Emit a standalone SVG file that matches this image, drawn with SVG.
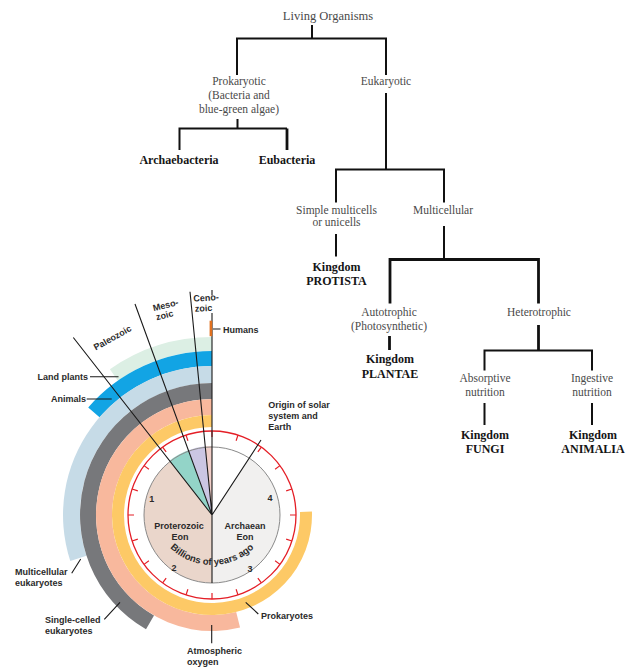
<svg xmlns="http://www.w3.org/2000/svg" width="642" height="669" viewBox="0 0 642 669">
<style>
.t{font-family:"Liberation Serif","Times New Roman",serif;font-size:11.5px;fill:#4a4a4a;text-anchor:middle}
.b{font-family:"Liberation Serif","Times New Roman",serif;font-size:12px;font-weight:bold;fill:#151515;text-anchor:middle}
.l{font-family:"Liberation Sans",Arial,sans-serif;font-size:9px;font-weight:bold;fill:#2a2a2a}
.m{text-anchor:middle}
.e{text-anchor:end}
.c{fill:none;stroke:#111;stroke-width:2}
.c3{fill:none;stroke:#111;stroke-width:2.8}
.p{fill:none;stroke:#1a1a1a;stroke-width:1.1}
</style>
<rect width="642" height="669" fill="#fff"/>
<g id="connectors">
<path class="c" d="M312,25V38.5M237,75V38.5H386V75"/>
<path class="c" d="M237.5,119V128.5M179.5,150V128.5H287"/>
<path class="c3" d="M287,128.5V150"/>
<path class="c" d="M386,93V170M336,202.5V169.5H444V202.5"/>
<path class="c" d="M336,234V256.5"/>
<path class="c" d="M444,226V259.5"/>
<path class="c3" d="M390,303.5V259.5H538.5V303.5"/>
<path class="c3" d="M389.5,336V350"/>
<path class="c3" d="M538.5,325V350.5"/>
<path class="c" d="M484.5,370.5V350.5H592V370.5"/>
<path class="c" d="M484.5,403V425M592,403V425"/>
</g>
<g id="n-living"><text class="t" x="328" y="19.5" style="font-size:12.5px">Living Organisms</text></g>
<g id="n-prokaryotic"><text class="t" x="239" y="85">Prokaryotic</text><text class="t" x="239" y="99">(Bacteria and</text><text class="t" x="239" y="113">blue-green algae)</text></g>
<g id="n-eukaryotic"><text class="t" x="386" y="85">Eukaryotic</text></g>
<g id="n-archaebacteria"><text class="b" x="179" y="163.5">Archaebacteria</text></g>
<g id="n-eubacteria"><text class="b" x="287" y="163.5">Eubacteria</text></g>
<g id="n-simple"><text class="t" x="336.5" y="213.5">Simple multicells</text><text class="t" x="336.5" y="226">or unicells</text></g>
<g id="n-multicellular"><text class="t" x="443" y="213.5">Multicellular</text></g>
<g id="n-protista"><text class="b" x="336.5" y="271">Kingdom</text><text class="b" x="336.5" y="285">PROTISTA</text></g>
<g id="n-autotrophic"><text class="t" x="389" y="316">Autotrophic</text><text class="t" x="389" y="330">(Photosynthetic)</text></g>
<g id="n-heterotrophic"><text class="t" x="539" y="316">Heterotrophic</text></g>
<g id="n-plantae"><text class="b" x="390" y="363">Kingdom</text><text class="b" x="390" y="377.5">PLANTAE</text></g>
<g id="n-absorptive"><text class="t" x="485" y="382">Absorptive</text><text class="t" x="485" y="396">nutrition</text></g>
<g id="n-ingestive"><text class="t" x="592" y="382">Ingestive</text><text class="t" x="592" y="396">nutrition</text></g>
<g id="n-fungi"><text class="b" x="485" y="438.5">Kingdom</text><text class="b" x="485" y="453">FUNGI</text></g>
<g id="n-animalia"><text class="b" x="593" y="438.5">Kingdom</text><text class="b" x="593" y="453">ANIMALIA</text></g>

<g id="clock">
<g id="bands">
<path fill="#dcefe4" d="M212,337A178,178 0 0 0 109.9,369.2L117.9,380.65A164,164 0 0 1 212,351Z"/>
<path fill="#12a4e4" d="M212,351A164,164 0 0 0 88.23,407.4L99.55,417.24A149,149 0 0 1 212,366Z"/>
<path fill="#c6dbe7" d="M212,366A149,149 0 0 0 70.3,561.04L86.45,555.79A132,132 0 0 1 212,383Z"/>
<path fill="#77787b" d="M212,383A132,132 0 0 0 146,629.3L154,615.46A116,116 0 0 1 212,399Z"/>
<path fill="#f8b89d" d="M212,399A116,116 0 1 0 240.06,627.55L236.19,612.03A100,100 0 1 1 212,415Z"/>
<path fill="#fdc966" d="M212,415A100,100 0 1 0 311.94,511.51L299.95,511.93A88,88 0 1 1 212,427Z"/>
</g>
<g id="eons">
<path fill="#ead6cb" d="M212,515L169.9,461.5A68,68 0 0 0 212,583Z"/>
<path fill="#f1f0ef" d="M212,515L212,583A68,68 0 0 0 249.2,458.1Z"/>
<path fill="#93d4c8" d="M212,515L169.5,460.7A69,69 0 0 1 188.3,450.2Z"/>
<path fill="#cbc6e3" d="M212,515L188.3,450.2A69,69 0 0 1 205.1,446.3Z"/>
<path fill="#f1cfc8" d="M212,515L205.1,446.3A69,69 0 0 1 212,446Z"/>
<circle cx="212" cy="515" r="68" fill="none" stroke="#8a8a8a" stroke-width="1"/>
</g>
<g id="scale" stroke="#e41e26" fill="none">
<circle cx="212" cy="515" r="84" stroke-width="1.3"/>
<path stroke-width="1.2" d="M212,431L212,437M186.04,435.11L187.9,440.81M162.62,447.04L166.15,451.9M144.04,465.62L148.9,469.15M132.11,489.04L137.81,490.9M128,515L134,515M132.11,540.96L137.81,539.1M144.04,564.38L148.9,560.85M162.62,582.96L166.15,578.1M186.04,594.89L187.9,589.19M212,599L212,593M237.96,594.89L236.1,589.19M261.38,582.96L257.85,578.1M279.96,564.38L275.1,560.85M291.89,540.96L286.19,539.1M296,515L290,515M291.89,489.04L286.19,490.9M279.96,465.62L275.1,469.15M261.38,447.04L257.85,451.9M237.96,435.11L236.1,440.81"/>
</g>
<g id="radials" class="p">
<path d="M212,515L73.3,337.5M212,515L135,304M212,515L190,291.7M212,313V583M212,290V295.5M212,515L261,440"/>
</g>
<rect x="209.6" y="320.7" width="2.6" height="15.5" fill="#e0701e"/>
<g id="pointers" class="p">
<path d="M213,329H220.5M90,376.7H118.5M86.7,399H111.7M71.7,573.3L80.7,559M104.3,619.3L120,602.3M258.3,614L245.7,602.3M211.7,625V643.3"/>
</g>
<g id="labels">
<text class="l m" transform="translate(114,340.5) rotate(-29)">Paleozoic</text>
<text class="l m" transform="translate(166.3,308.2) rotate(-14)">Meso-</text>
<text class="l m" transform="translate(165.3,318.2) rotate(-14)">zoic</text>
<text class="l" transform="translate(193.5,301.5) rotate(-3)">Ceno-</text>
<text class="l" transform="translate(195,311.7) rotate(-3)">zoic</text>
<text class="l" x="223" y="332.5">Humans</text>
<text class="l e" x="88" y="379.5">Land plants</text>
<text class="l e" x="86" y="401.7">Animals</text>
<text class="l" x="268.3" y="408.3">Origin of solar</text>
<text class="l" x="268.3" y="419">system and</text>
<text class="l" x="268.3" y="429.5">Earth</text>
<text class="l" x="15" y="574.5">Multicellular</text>
<text class="l" x="15" y="585.7">eukaryotes</text>
<text class="l" x="45" y="623.3">Single-celled</text>
<text class="l" x="45" y="634">eukaryotes</text>
<text class="l" x="261" y="618.5">Prokaryotes</text>
<text class="l" x="187" y="653.5">Atmospheric</text>
<text class="l" x="187" y="665">oxygen</text>
<text class="l m" x="179" y="529.3">Proterozoic</text>
<text class="l m" x="180" y="539.5">Eon</text>
<text class="l m" x="245" y="529.3">Archaean</text>
<text class="l m" x="245" y="539.5">Eon</text>
<text class="l m" x="151.7" y="501.5">1</text>
<text class="l m" x="270" y="501">4</text>
<text class="l m" x="174" y="571">2</text>
<text class="l m" x="250" y="572">3</text>
<path id="arcB" d="M152,505A60,60 0 0 0 272,505" fill="none"/>
<text class="l" style="font-size:9.5px"><textPath href="#arcB" startOffset="50%" text-anchor="middle">Billions of years ago</textPath></text>
</g>
</g>
</svg>
